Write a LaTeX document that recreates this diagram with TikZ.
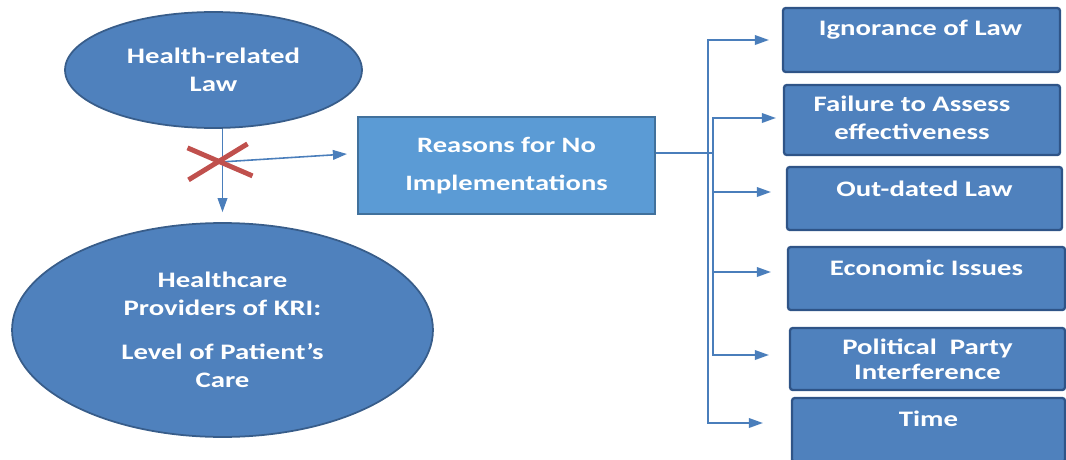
\documentclass[tikz,border=0pt]{standalone}
\usepackage{fontspec}
\setmainfont{Carlito}
\newfontfamily\wide[FakeStretch=1.3]{Carlito}
\usetikzlibrary{shapes.geometric,arrows.meta,calc}
\definecolor{shapeblue}{HTML}{4F81BD}
\definecolor{shapeedge}{HTML}{385D8A}
\definecolor{rectblue}{HTML}{5B9BD5}
\definecolor{rectedge}{HTML}{41719C}
\definecolor{boxedge}{HTML}{2F5487}
\definecolor{lineblue}{HTML}{4A7EBB}
\definecolor{crossred}{HTML}{C0504D}
\begin{document}
\begin{tikzpicture}[x=0.02cm,y=-0.02cm,
  txt/.style={text=white, align=center, font=\wide\bfseries\fontsize{12.6}{16}\selectfont},
  ell/.style={ellipse, draw=shapeedge, line width=1pt, fill=shapeblue, inner sep=0pt},
  mainbox/.style={rectangle, draw=rectedge, line width=1.2pt, fill=rectblue, inner sep=0pt},
  sidebox/.style={rectangle, rounded corners=1.5pt, draw=boxedge, line width=1.3pt, fill=shapeblue, inner sep=0pt},
  link/.style={draw=lineblue, line width=0.9pt},
  conn/.style={link, -{Triangle[length=8pt,width=5.5pt]}},
  cross/.style={draw=crossred, line width=2.8pt}]
\useasboundingbox (0,0) rectangle (1066,460);

% left side: law and providers
\node[ell, minimum width=5.94cm, minimum height=2.32cm] (law) at (213.5,70) {};
\node[txt] (lawt) at (law.center) {Health-related\\Law};
\node[ell, minimum width=8.42cm, minimum height=4.28cm] (care) at (222.5,330) {};
\node[txt] (caret) at (care.center) {Healthcare\\Providers of KRI:\\[9pt]Level of Patient’s\\Care};

% central box
\node[mainbox, minimum width=5.94cm, minimum height=1.94cm] (rect) at (506.5,165.5) {};
\node[txt, font=\wide\bfseries\fontsize{12.5}{21.5}\selectfont] (rectt) at (rect.center) {Reasons for No\\Implementations};

% reasons
\node[sidebox, minimum width=5.54cm, minimum height=1.28cm] (box1) at (921.5,40) {};
\node[sidebox, minimum width=5.52cm, minimum height=1.40cm] (box2) at (922,120) {};
\node[sidebox, minimum width=5.50cm, minimum height=1.26cm] (box3) at (924.5,198.5) {};
\node[sidebox, minimum width=5.54cm, minimum height=1.26cm] (box4) at (926.5,278.5) {};
\node[sidebox, minimum width=5.50cm, minimum height=1.24cm] (box5) at (927.5,359) {};
\node[sidebox, minimum width=5.46cm, minimum height=1.28cm] (box6) at (928.5,430) {};

\node[txt] (t1) at ($(box1.north)+(-1,23)$) {Ignorance of Law};
\node[txt] (t2) at ($(box2.north)+(-10,34)$) {Failure to Assess\\effectiveness};
\node[txt] (t3) at ($(box3.north)+(0,23)$) {Out-dated Law};
\node[txt] (t4) at ($(box4.north)+(0,22)$) {Economic Issues};
\node[txt, font=\wide\bfseries\fontsize{12.6}{14.2}\selectfont] (t5) at ($(box5.north)+(0,32.5)$) {Political\ \ Party\\Interference};
\node[txt] (t6) at ($(box6.north)+(0,22)$) {Time};

% blocked link from law to providers
\coordinate (split) at ($(care.north |- law.south)+(0,33)$);
\draw[conn, shorten >=10*0.02cm] (care.north |- law.south) -- (care.north);
\draw[conn] (split) -- ($(rect.west)+(-10,-11.5)$);
\draw[cross] ($(split)+(-35,-14)$) -- ($(split)+(30,14)$);
\draw[cross] ($(split)+(25,-18)$) -- ($(split)+(-34,18)$);

% branching to the reasons
\coordinate (j1) at (708,153);
\coordinate (j2) at (713,153);
\draw[link] ($(rect.east)+(0,-12.5)$) -- (j2);
\draw[conn] (j1) |- ($(box1.west)+(-13,0)$);
\draw[conn] (j2) |- ($(box2.west)+(-7,-2)$);
\draw[conn] (j2) |- ($(box3.west)+(-15,-6.5)$);
\draw[conn] (j2) |- ($(box4.west)+(-16,-6.5)$);
\draw[conn] (j2) |- ($(box5.west)+(-20,-4)$);
\draw[conn] (j1) |- ($(box6.west)+(-28,-7)$);
\end{tikzpicture}
\end{document}
